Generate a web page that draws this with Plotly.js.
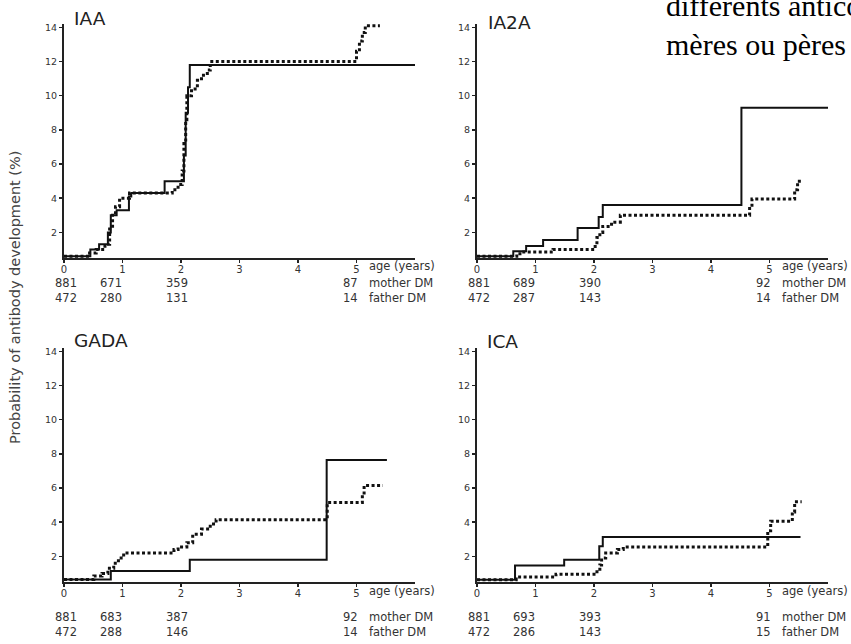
<!DOCTYPE html>
<html><head><meta charset="utf-8">
<script src="https://cdn.plot.ly/plotly-3.0.1.min.js"></script>
<style>html,body{margin:0;padding:0;background:#fff}#chart{width:851px;height:644px}</style>
</head><body><div id="chart"></div>
<script>
// ---- data ----
const panelNames = ['IAA', 'IA2A', 'GADA', 'ICA'];

const iaaMotherX = [0, 0.45, 0.6, 0.75, 0.8, 0.9, 1.11, 1.15, 1.72, 2.05, 2.08, 2.12, 2.15, 6.0];
const iaaMotherY = [0.6, 1.0, 1.3, 2.0, 3.0, 3.3, 4.1, 4.3, 5.0, 6.5, 9.0, 10.5, 11.8, 11.8];
const iaaFatherX = [0, 0.4, 0.55, 0.7, 0.78, 0.83, 0.88, 0.95, 1.12, 1.85, 1.95, 2.02, 2.05, 2.08, 2.1, 2.18, 2.28, 2.35, 2.45, 2.5, 5.0, 5.05, 5.1, 5.15, 5.4];
const iaaFatherY = [0.6, 0.8, 1.0, 1.3, 2.2, 3.0, 3.5, 4.0, 4.3, 4.5, 4.8, 5.6, 7.2, 8.6, 10.0, 10.4, 10.9, 11.2, 11.5, 12.0, 12.6, 13.2, 13.7, 14.1, 14.1];

const ia2aMotherX = [0, 0.62, 0.84, 1.13, 1.72, 2.08, 2.15, 4.52, 6.0];
const ia2aMotherY = [0.6, 0.9, 1.2, 1.55, 2.25, 2.9, 3.6, 9.3, 9.3];
const ia2aFatherX = [0, 0.68, 0.8, 1.3, 2.02, 2.05, 2.1, 2.15, 2.3, 2.45, 4.66, 4.7, 5.43, 5.48, 5.55];
const ia2aFatherY = [0.6, 0.75, 0.85, 1.0, 1.3, 1.7, 2.0, 2.35, 2.6, 3.0, 3.5, 3.95, 4.5, 5.0, 5.0];

const gadaMotherX = [0, 0.8, 2.15, 4.49, 5.52];
const gadaMotherY = [0.65, 1.15, 1.8, 7.65, 7.65];
const gadaFatherX = [0, 0.51, 0.65, 0.75, 0.85, 0.93, 1.02, 1.88, 1.95, 2.1, 2.2, 2.35, 2.5, 2.6, 4.5, 5.1, 5.13, 5.45];
const gadaFatherY = [0.65, 0.85, 1.0, 1.3, 1.6, 1.9, 2.2, 2.4, 2.55, 2.8, 3.3, 3.6, 3.9, 4.15, 5.15, 5.6, 6.15, 6.15];

const icaMotherX = [0, 0.65, 1.49, 2.09, 2.15, 5.53];
const icaMotherY = [0.63, 1.47, 1.8, 2.6, 3.13, 3.13];
const icaFatherX = [0, 0.67, 1.35, 2.0, 2.1, 2.13, 2.2, 2.4, 2.5, 4.97, 5.02, 5.39, 5.43, 5.55];
const icaFatherY = [0.63, 0.8, 0.95, 1.1, 1.5, 1.9, 2.2, 2.4, 2.55, 3.5, 4.05, 4.6, 5.2, 5.2];

// numbers at risk: [at age 0, ~1, ~2, ~5]
const iaaMotherRisk = ['881', '671', '359', '87'];
const iaaFatherRisk = ['472', '280', '131', '14'];
const ia2aMotherRisk = ['881', '689', '390', '92'];
const ia2aFatherRisk = ['472', '287', '143', '14'];
const gadaMotherRisk = ['881', '683', '387', '92'];
const gadaFatherRisk = ['472', '288', '146', '14'];
const icaMotherRisk = ['881', '693', '393', '91'];
const icaFatherRisk = ['472', '286', '143', '15'];

const xTickVals = [0, 1, 2, 3, 4, 5];
const yTickVals = [2, 4, 6, 8, 10, 12, 14];
const riskRowLabels = ['mother DM', 'father DM'];
const xAxisLabel = 'age (years)';
const yAxisLabel = 'Probability of antibody development (%)';
const frenchLines = ['différents anticorps', 'mères ou pères'];

// ---- layout helpers ----
const W = 851, H = 644;
const px = x => x / W;
const py = y => 1 - y / H;

const panels = [
  {name: panelNames[0], mx: iaaMotherX, my: iaaMotherY, fx: iaaFatherX, fy: iaaFatherY, mr: iaaMotherRisk, fr: iaaFatherRisk,
   xd: [64, 415], yd: [258, 24], titleX: 73, titleY: 19, rowY: [283, 298], ageY: 266},
  {name: panelNames[1], mx: ia2aMotherX, my: ia2aMotherY, fx: ia2aFatherX, fy: ia2aFatherY, mr: ia2aMotherRisk, fr: ia2aFatherRisk,
   xd: [477, 828], yd: [258, 24], titleX: 487, titleY: 22, rowY: [283, 298], ageY: 266},
  {name: panelNames[2], mx: gadaMotherX, my: gadaMotherY, fx: gadaFatherX, fy: gadaFatherY, mr: gadaMotherRisk, fr: gadaFatherRisk,
   xd: [64, 415], yd: [582, 348], titleX: 73, titleY: 340, rowY: [617, 632], ageY: 591},
  {name: panelNames[3], mx: icaMotherX, my: icaMotherY, fx: icaFatherX, fy: icaFatherY, mr: icaMotherRisk, fr: icaFatherRisk,
   xd: [477, 828], yd: [582, 348], titleX: 486, titleY: 342, rowY: [617, 632], ageY: 591}
];

const FONT = 'DejaVu Sans, Arial, sans-serif';
const TXT = '#333';
const traces = [];
const layout = {
  width: W, height: H,
  margin: {l: 0, r: 0, t: 0, b: 0},
  paper_bgcolor: '#fff', plot_bgcolor: '#fff',
  showlegend: false,
  annotations: []
};

panels.forEach((p, i) => {
  const n = i === 0 ? '' : String(i + 1);
  const xa = 'x' + n, ya = 'y' + n;
  traces.push({x: p.mx, y: p.my, xaxis: xa, yaxis: ya, type: 'scatter', mode: 'lines',
    line: {shape: 'hv', color: '#111', width: 2}, name: 'mother DM'});
  traces.push({x: p.fx, y: p.fy, xaxis: xa, yaxis: ya, type: 'scatter', mode: 'lines',
    line: {shape: 'hv', color: '#111', width: 3, dash: '3px,2.5px'}, name: 'father DM'});

  layout['xaxis' + n] = {
    domain: [px(p.xd[0]), px(p.xd[1])], anchor: ya, range: [0, 6.0],
    tickvals: xTickVals, ticks: 'outside', ticklen: 3, tickwidth: 1.5, tickcolor: '#222',
    ticklabelstandoff: -2,
    showline: true, linewidth: 2, linecolor: '#222', showgrid: false, zeroline: false,
    tickfont: {family: FONT, size: 10, color: TXT}, fixedrange: true
  };
  layout['yaxis' + n] = {
    domain: [py(p.yd[0]), py(p.yd[1])], anchor: xa, range: [0.5, 14.2],
    tickvals: yTickVals, ticks: 'outside', ticklen: 3, tickwidth: 1.5, tickcolor: '#222',
    showline: true, linewidth: 2, linecolor: '#222', showgrid: false, zeroline: false,
    tickfont: {family: FONT, size: 9.5, color: TXT}, fixedrange: true
  };

  // panel title
  layout.annotations.push({text: p.name, xref: 'paper', yref: 'paper', x: px(p.titleX), y: py(p.titleY),
    xanchor: 'left', yanchor: 'middle', showarrow: false, borderpad: 0,
    font: {family: FONT, size: 18.5, color: '#222'}});
  // age label
  layout.annotations.push({text: xAxisLabel, xref: xa, yref: 'paper', x: 5.2, y: py(p.ageY),
    xanchor: 'left', yanchor: 'middle', showarrow: false, borderpad: 0,
    font: {family: FONT, size: 11.5, color: TXT}});
  // numbers at risk
  const centers = [0.04, 0.8, 1.93];
  [p.mr, p.fr].forEach((row, r) => {
    row.forEach((v, k) => {
      const last = k === row.length - 1;
      layout.annotations.push({text: v, xref: xa, yref: 'paper',
        x: last ? 5.04 : centers[k], y: py(p.rowY[r]),
        xanchor: last ? 'right' : 'center', yanchor: 'middle', showarrow: false, borderpad: 0,
        font: {family: FONT, size: 11.5, color: TXT}});
    });
    layout.annotations.push({text: riskRowLabels[r], xref: xa, yref: 'paper', x: 5.2, y: py(p.rowY[r]),
      xanchor: 'left', yanchor: 'middle', showarrow: false, borderpad: 0,
      font: {family: FONT, size: 11.5, color: TXT}});
  });
});

// shared y axis label
layout.annotations.push({text: yAxisLabel, xref: 'paper', yref: 'paper', x: px(15), y: py(298),
  xanchor: 'center', yanchor: 'middle', textangle: -90, showarrow: false, borderpad: 0,
  font: {family: FONT, size: 14.5, color: '#444'}});

// surrounding document text (cut off by the crop in the reference)
layout.annotations.push({text: frenchLines[0], xref: 'paper', yref: 'paper', x: px(665), y: py(6),
  xanchor: 'left', yanchor: 'middle', showarrow: false, borderpad: 0,
  font: {family: 'Liberation Serif, Times New Roman, serif', size: 30, color: '#000'}});
layout.annotations.push({text: frenchLines[1], xref: 'paper', yref: 'paper', x: px(665), y: py(44),
  xanchor: 'left', yanchor: 'middle', showarrow: false, borderpad: 0,
  font: {family: 'Liberation Serif, Times New Roman, serif', size: 30, color: '#000'}});

Plotly.newPlot('chart', traces, layout, {staticPlot: true, displayModeBar: false});
</script></body></html>
